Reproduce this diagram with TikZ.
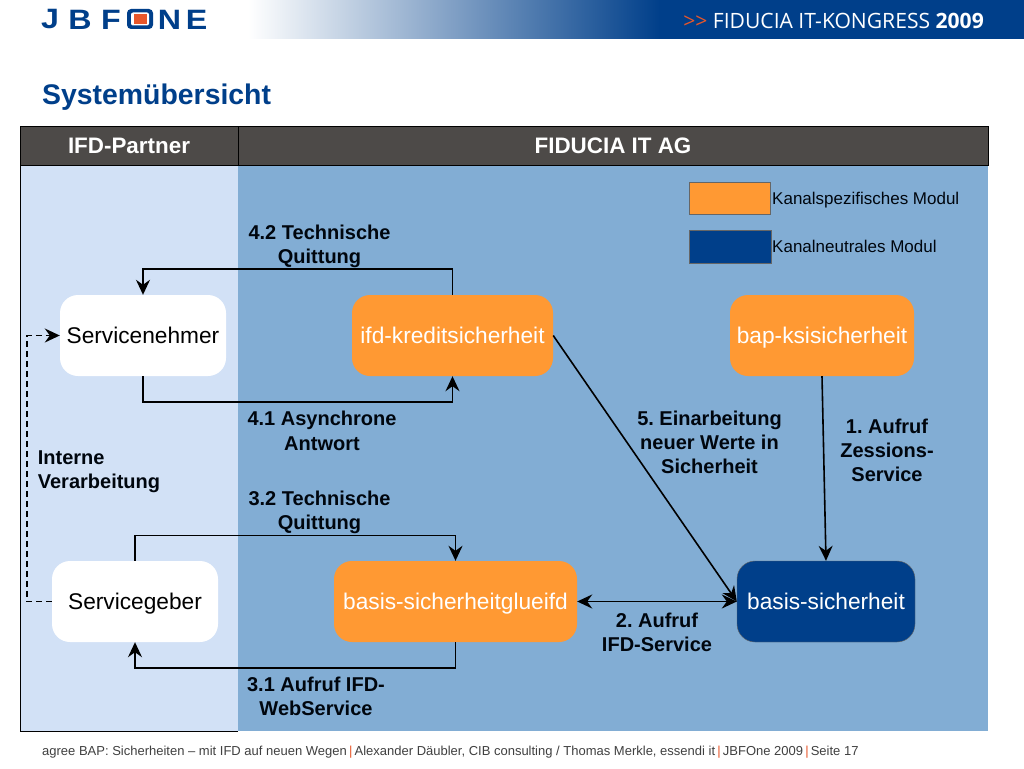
\documentclass[tikz,border=0pt]{standalone}
\usepackage{fontspec}
\setmainfont{Liberation Sans}
\newfontfamily\bandfont{Open Sans}
\frenchspacing
\usetikzlibrary{arrows.meta}
\definecolor{navy}{HTML}{003F8A}
\definecolor{modorange}{HTML}{FF9933}
\definecolor{headgrey}{HTML}{4D4A48}
\definecolor{lightpanel}{HTML}{D2E1F6}
\definecolor{midpanel}{HTML}{82ADD4}
\definecolor{redorange}{HTML}{E8572A}
\def\fs#1{\fontsize{#1}{#1}\selectfont}
\def\sep{\,{\color{redorange}|}\,}
\def\barb{Stealth[inset=5pt,length=15pt,width=14pt]}
\tikzset{
  module/.style={rounded corners=18pt,minimum height=81pt,inner sep=0pt,text height=16pt,text depth=0pt,font=\fs{22.7}},
  white module/.style={module,fill=white,text=black},
  orange module/.style={module,fill=modorange,text=white},
  navy module/.style={module,fill=navy,draw=black!60,text=white},
  step label/.style={align=center,font=\bfseries\fontsize{20}{24.5}\selectfont,text=black!90!navy},
  head/.style={fill=headgrey,draw=black,line width=1pt,text=white,inner sep=0pt,text height=16pt,text depth=0pt,font=\bfseries\fs{22.4}},
  legend/.style={draw=black!60,line width=1pt,inner sep=0pt},
  legend text/.style={anchor=west,inner sep=0pt,font=\fs{17},text=black!90!navy},
  logo/.style={text=navy,inner sep=0pt,font=\bfseries\fs{28}},
  link/.style={draw=black,line width=1.6pt,-{\barb}}
}
\begin{document}
\begin{tikzpicture}[x=1pt,y=-1pt]
\useasboundingbox (0,0) rectangle (1024,768);
\fill[white] (0,0) rectangle (1024,768);
\begin{scope}
\clip (0,0) rectangle (1024,38.5);
\fill[left color=white,right color=navy] (248,-5) rectangle (660,45);
\fill[navy] (659,-5) rectangle (1024,45);
\end{scope}
\foreach \letter/\xpos in {J/50,B/80,F/111,N/169.5,E/196.5}
  \node[logo] at (\xpos,19.5) {\scalebox{1.15}[1]{\letter}};
\node[fill=navy,rounded corners=4pt,minimum width=26pt,minimum height=20pt,inner sep=0pt] (logoring) at (140,19) {};
\node[fill=white,rounded corners=2pt,minimum width=18pt,minimum height=13pt,inner sep=0pt] (logoinner) at (140,19) {};
\node[fill=redorange,minimum width=13pt,minimum height=10pt,inner sep=0pt] (logocore) at (140,19) {};
\node[anchor=east,inner sep=0pt,text=white,font=\bandfont\fs{21.1}] (band) at (984,20.5) {{\color{redorange}>>} FIDUCIA IT-KONGRESS \textbf{2009}};
\node[anchor=west,inner sep=0pt,text=navy,font=\bfseries\fs{28.4}] (title) at (42,97) {Systemübersicht};

\fill[lightpanel] (20,165) rectangle (238,731);
\fill[midpanel] (238,165) rectangle (988,731);
\draw[black,line width=1pt] (238,731) -- (20,731) -- (20,165);
\node[head,minimum width=218pt,minimum height=39pt] (partner) at (129,145.5) {IFD-Partner};
\node[head,minimum width=750pt,minimum height=39pt] (fiducia) at (613,145.5) {FIDUCIA IT AG};

\node[legend,fill=modorange,minimum width=81pt,minimum height=32pt] (legendorange) at (729.5,198) {};
\node[legend,fill=navy,minimum width=82pt,minimum height=33pt] (legendnavy) at (730,246.5) {};
\node[legend text] (legendorangetext) at (772,200) {Kanalspezifisches Modul};
\node[legend text] (legendnavytext) at (772,246) {Kanalneutrales Modul};

\node[white module,minimum width=166pt] (nehmer) at (143,335.5) {Servicenehmer};
\node[white module,minimum width=166pt] (geber) at (135,601.5) {Servicegeber};
\node[orange module,minimum width=201pt] (ifd) at (452.5,335.5) {ifd-kreditsicherheit};
\node[orange module,minimum width=184pt] (bap) at (822,335.5) {bap-ksisicherheit};
\node[orange module,minimum width=243pt] (glue) at (455.5,601.5) {basis-sicherheitglueifd};
\node[navy module,minimum width=178pt] (basis) at (826,601.5) {basis-sicherheit};

\draw[link] (ifd.north) -- ++(0,-26) -| (nehmer.north);
\draw[link] (nehmer.south) -- ++(0,25.5) -| (ifd.south);
\draw[link] (geber.north) -- ++(0,-25.5) -| (glue.north);
\draw[link] (glue.south) -- ++(0,25.5) -| (geber.south);
\draw[link,dash pattern=on 6pt off 4pt] (geber.west) -- ++(-25,0) |- (nehmer.west);
\draw[link] (ifd.east) -- (basis.west);
\draw[link] (bap.south) -- (basis.north);
\draw[link,{\barb}-{\barb}] (basis.west) -- (glue.east);

\node[step label] (l42) at (319.5,246.5) {4.2 Technische\\Quittung};
\node[step label] (l41) at (322,431) {4.1 Asynchrone\\Antwort};
\node[step label] (l32) at (319.5,512.5) {3.2 Technische\\Quittung};
\node[step label] (l31) at (316,696.5) {3.1 Aufruf IFD-\\WebService};
\node[step label,align=left,font=\bfseries\fontsize{20}{24}\selectfont] (intern) at (99,472) {Interne\\Verarbeitung};
\node[step label,font=\bfseries\fontsize{20}{24}\selectfont] (l5) at (709.5,442.5) {5. Einarbeitung\\neuer Werte in\\Sicherheit};
\node[step label,font=\bfseries\fontsize{20}{24}\selectfont] (l1) at (887,450.5) {1. Aufruf\\Zessions-\\Service};
\node[step label,font=\bfseries\fontsize{20}{24}\selectfont] (l2) at (657,632.5) {2. Aufruf\\IFD-Service};

\node[anchor=west,inner sep=0pt,text=black!75,font=\fs{13}] (footer) at (42,752) {agree BAP: Sicherheiten – mit IFD auf neuen Wegen\sep Alexander Däubler, CIB consulting / Thomas Merkle, essendi it\sep JBFOne 2009\sep Seite 17};
\end{tikzpicture}
\end{document}
